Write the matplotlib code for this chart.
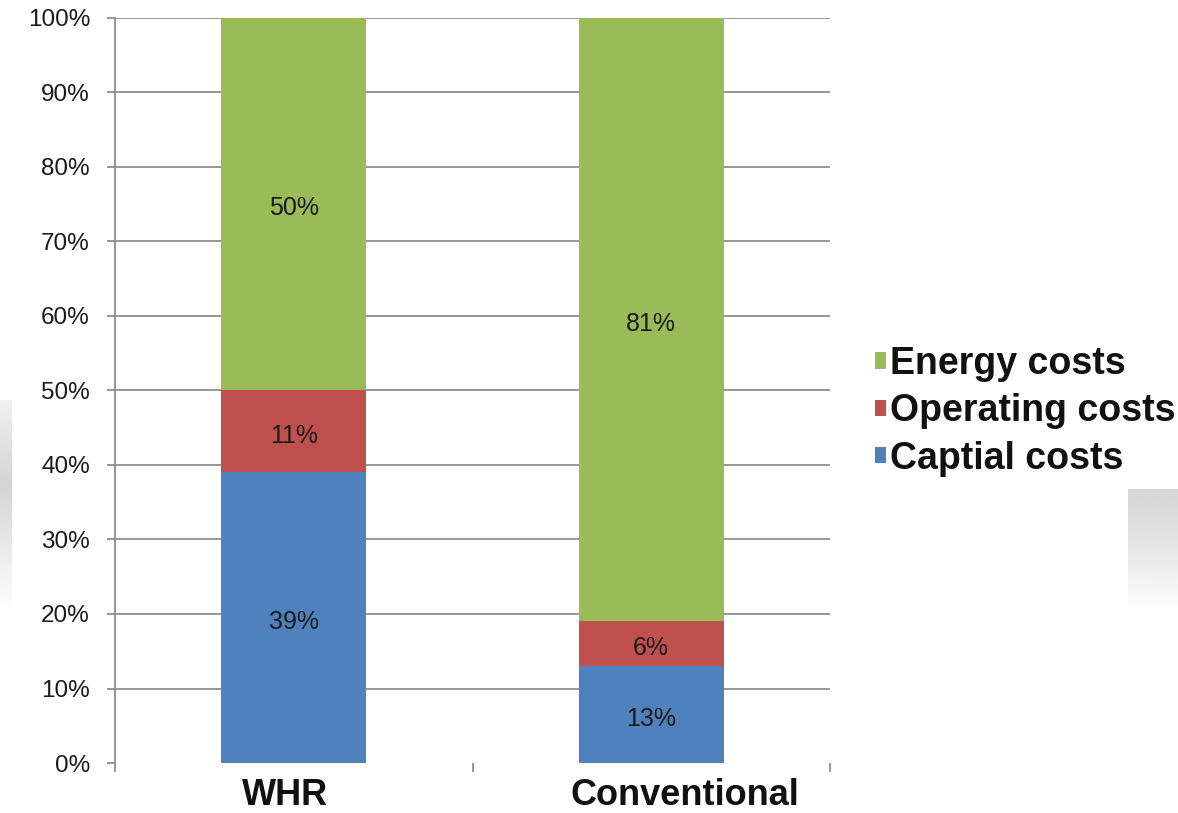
import numpy as np
import matplotlib
matplotlib.use("Agg")
import matplotlib.pyplot as plt
from matplotlib.patches import Patch
from matplotlib import transforms

# Cost breakdown (% of total lifetime cost)
categories = ["WHR", "Conventional"]
capital_costs = [39, 13]
operating_costs = [11, 6]
energy_costs = [50, 81]
y_ticks = [0, 10, 20, 30, 40, 50, 60, 70, 80, 90, 100]
y_tick_labels = [f"{v}%" for v in y_ticks]

series = [
    ("Captial costs", capital_costs, "#4F81BD"),
    ("Operating costs", operating_costs, "#C0504D"),
    ("Energy costs", energy_costs, "#9BBB59"),
]

plt.rcParams["font.family"] = ["Liberation Sans", "DejaVu Sans"]

W, H = 1178, 813
fig = plt.figure(figsize=(W / 100, H / 100), dpi=100)
fig.patch.set_facecolor("white")


# soft grey panels at the slide edges
def gradient_panel(x0, y0, x1, y1, profile):
    a = fig.add_axes([x0 / W, 1 - y1 / H, (x1 - x0) / W, (y1 - y0) / H], zorder=-5)
    a.imshow(profile[:, None], cmap="gray", vmin=0, vmax=1, aspect="auto",
             extent=(0, 1, 0, 1), interpolation="bilinear")
    a.set_axis_off()


t = np.linspace(0, 1, 120)
gradient_panel(1128, 489, 1178, 612, 0.84 + 0.16 * t ** 1.3)
gradient_panel(0, 400, 12, 612, 0.83 + 0.17 * (np.abs(t - 0.4) / 0.6) ** 1.0)

ax = fig.add_axes([115 / W, 1 - 763 / H, 715 / W, 745 / H])
x = np.arange(len(categories))
bottom = np.zeros(len(categories))
handles = []
seg_label_tr = transforms.offset_copy(ax.transData, fig=fig, x=0, y=-3, units="points")
for name, vals, color in series:
    vals = np.array(vals, dtype=float)
    ax.bar(x, vals, width=0.405, bottom=bottom, color=color, zorder=3)
    for xi, b, v in zip(x, bottom, vals):
        ax.text(xi, b + v / 2, f"{v:.0f}%", ha="center", va="center",
                fontsize=18, color="#1a1a1a", zorder=4, transform=seg_label_tr)
    bottom += vals
    handles.append(Patch(facecolor=color, edgecolor="none", label=name))

ax.set_xlim(-0.5, len(categories) - 0.5)
ax.set_ylim(0, 100)
ax.set_yticks(y_ticks)
ax.set_yticklabels(y_tick_labels)
ax.set_xticks(np.arange(len(categories) + 1) - 0.5)
ax.set_xticklabels([])

grid_c = "#8f8f8f"
ax.yaxis.grid(True, color=grid_c, linewidth=1.3, zorder=0)
ax.set_axisbelow(True)
for s in ["top", "right", "bottom"]:
    ax.spines[s].set_visible(False)
ax.spines["left"].set_color(grid_c)
ax.spines["left"].set_linewidth(1.3)
ax.tick_params(axis="y", length=6, width=1.3, color=grid_c, pad=12,
               labelsize=17.5, labelcolor="#1a1a1a")
ax.tick_params(axis="x", length=6.5, width=1.3, color=grid_c, direction="out")
# no gridline along the 0% baseline
ax.yaxis.get_gridlines()[0].set_visible(False)

# category labels under the bars (shifted in pixels)
label_offsets_px = [-9, 34]
for xi, name, dx in zip(x, categories, label_offsets_px):
    tr = transforms.offset_copy(ax.transData, fig=fig, x=dx * 0.72, y=-41.5 * 0.72,
                                units="points")
    ax.text(xi, 0, name, transform=tr, ha="center", va="baseline", fontsize=26,
            fontweight="bold", color="#111111", clip_on=False)

leg = fig.legend(handles=handles[::-1], loc="upper left",
                 bbox_to_anchor=(875 / W, 1 - 346 / H), frameon=False,
                 prop={"size": 27, "weight": "bold"}, handlelength=0.29,
                 handleheight=0.29, handletextpad=0.1, labelspacing=0.3,
                 borderaxespad=0, borderpad=0)
for tx in leg.get_texts():
    tx.set_color("#111111")

fig.savefig("out.png", dpi=100, facecolor="white")
